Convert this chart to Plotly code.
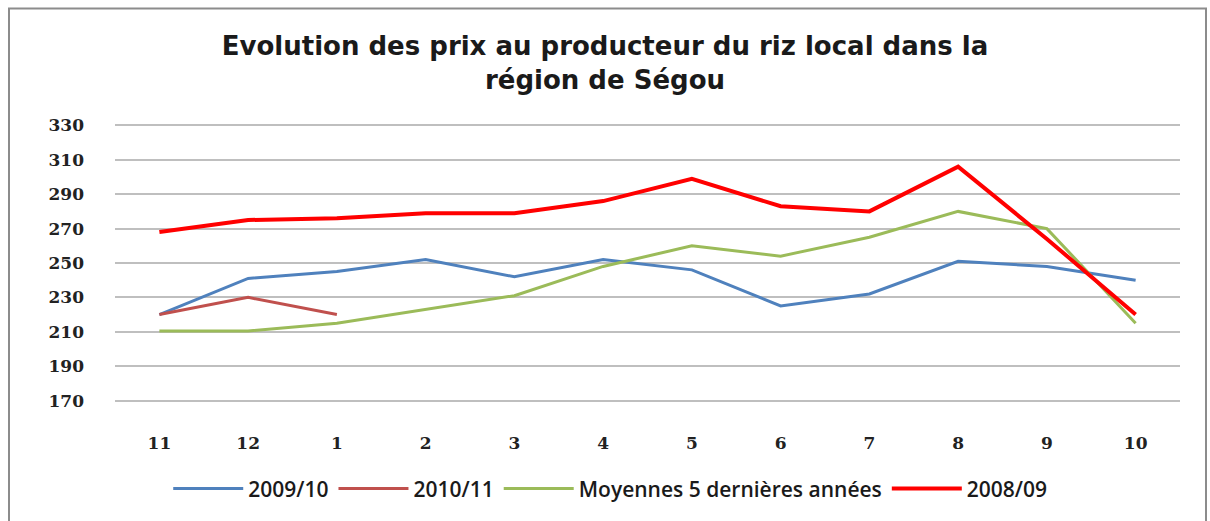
import plotly.graph_objects as go

months = ["11", "12", "1", "2", "3", "4", "5", "6", "7", "8", "9", "10"]
s_2009_10 = [220, 241, 245, 252, 242, 252, 246, 225, 232, 251, 248, 240]
s_2010_11 = [220, 230, 220]
s_moy5 = [210.5, 210.5, 215, 223, 231, 248, 260, 254, 265, 280, 270, 215]
s_2008_09 = [268, 275, 276, 279, 279, 286, 299, 283, 280, 306, 264, 220]
y_ticks = [170, 190, 210, 230, 250, 270, 290, 310, 330]

names = ["2009/10", "2010/11", "Moyennes 5 dernières années", "2008/09"]
colors = ["#4F81BD", "#C0504D", "#9BBB59", "#FF0000"]
widths = [3, 3, 3, 4]
data = [s_2009_10, s_2010_11, s_moy5, s_2008_09]

fig = go.Figure()
for n, c, w, d in zip(names, colors, widths, data):
    fig.add_trace(go.Scatter(
        x=list(range(len(d))), y=d, mode="lines", name=n,
        line=dict(color=c, width=w)))

T, B = 122, 113
H = 521 - T - B
Y0 = 521 - B  # pixel row of paper y=0

fig.update_layout(
    width=1210, height=521,
    margin=dict(l=115, r=30, t=T, b=B),
    paper_bgcolor="white", plot_bgcolor="white",
    title=dict(text="Evolution des prix au producteur du riz local dans la<br>région de Ségou",
               x=0.5, xanchor="center", y=0.895, yanchor="middle",
               font=dict(family="DejaVu Sans", size=26, weight="bold", color="#1a1a1a")),
    xaxis=dict(range=[-0.5, 11.5], tickmode="array",
               tickvals=list(range(len(months))), ticktext=months,
               showgrid=False, zeroline=False, showline=False,
               ticks="", ticklabelstandoff=27,
               tickfont=dict(family="DejaVu Serif", size=17, weight="bold", color="#222")),
    yaxis=dict(range=[168, 332], tickmode="array", tickvals=y_ticks,
               showgrid=True, gridcolor="#BFBFBF", gridwidth=2,
               zeroline=False, showline=False, ticks="",
               ticklabelstandoff=30,
               tickfont=dict(family="DejaVu Serif", size=17, weight="bold", color="#222")),
    legend=dict(orientation="h", x=0.465, xanchor="center", y=(Y0 - 494) / H, yanchor="middle",
                itemwidth=70,
                font=dict(family="Open Sans", size=21, weight=600, color="#1a1a1a")),
    shapes=[dict(type="rect", xref="paper", yref="paper",
                 x0=(9 - 115) / 1065, x1=(1206 - 115) / 1065,
                 y0=(Y0 - 540) / H, y1=(Y0 - 7) / H,
                 line=dict(color="#8C8C8C", width=2), layer="below")],
)

fig.write_html("out.html", post_script="document.body.style.margin='0';",
               config={"displayModeBar": False})
